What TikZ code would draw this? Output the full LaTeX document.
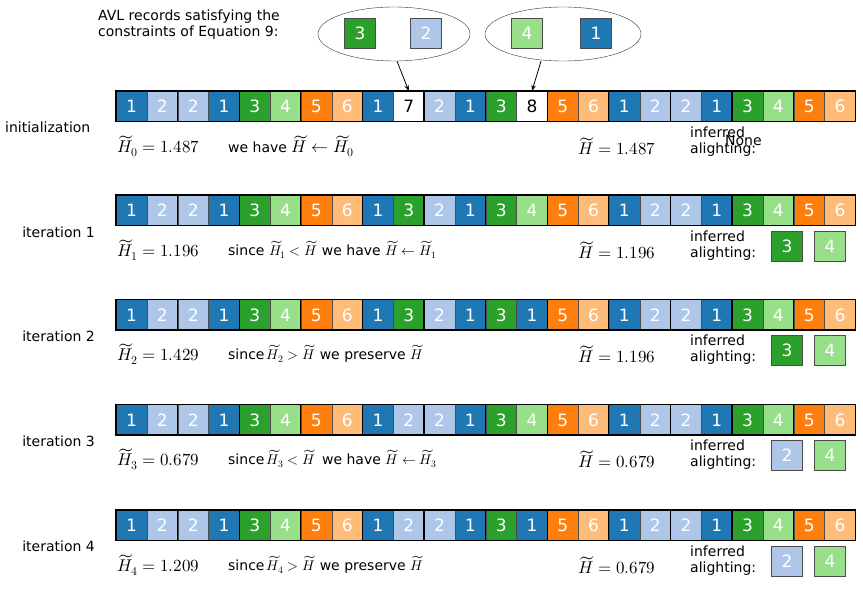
\documentclass[tikz,border=0pt]{standalone}
\usepackage{fontspec}
\setmainfont{DejaVu Sans}
\usepackage{amsmath}
\usepackage[math-style=TeX]{unicode-math}
\setmathfont{Latin Modern Math}
\usetikzlibrary{arrows.meta,shapes.geometric}
\definecolor{c1}{HTML}{1F77B4}\definecolor{c2}{HTML}{AEC7E8}
\definecolor{c3}{HTML}{2CA02C}\definecolor{c4}{HTML}{98DF8A}
\definecolor{c5}{HTML}{FF7F0E}\definecolor{c6}{HTML}{FFBB78}
\definecolor{c7}{HTML}{FFFFFF}\definecolor{c8}{HTML}{FFFFFF}
\colorlet{t1}{white}\colorlet{t2}{white}\colorlet{t3}{white}\colorlet{t4}{white}
\colorlet{t5}{white}\colorlet{t6}{white}\colorlet{t7}{black}\colorlet{t8}{black}
\tikzset{
 cell/.style={draw=black!70,line width=0.4pt,minimum width=30.8pt,minimum height=30.5pt,inner sep=0,anchor=north west,font=\fontsize{17}{17}\selectfont},
 lab/.style={font=\fontsize{14}{16}\selectfont,inner sep=0},
 mth/.style={font=\fontsize{17}{17}\selectfont,inner sep=0,anchor=west},
}
\newcommand{\drawrow}[3]{% name, top y, list
 \foreach \v [count=\k] in {#3} {
  \pgfmathsetmacro{\xx}{116+(\k-1)*30.8}
  \node[cell,fill=c\v,text=t\v] (#1c\k) at (\xx,#2) {\v};
 }
 \foreach \k in {0,2,...,24}{\draw[line width=1.1pt] (116+\k*30.8,#2) -- (116+\k*30.8,#2+30.5);}
 \draw[line width=1.1pt] (116,#2) rectangle (855.2,#2+30.5);
}
\begin{document}
\begin{tikzpicture}[x=1pt,y=-1pt]
\useasboundingbox (0,0) rectangle (863,593);
\node[lab,align=left,anchor=north west] (avl) at (98,10) {AVL records satisfying the\\constraints of Equation 9:};
\node[draw=black!80,ellipse,minimum width=152pt,minimum height=54pt] (e1) at (394,34) {};
\node[draw=black!80,ellipse,minimum width=156pt,minimum height=54pt] (e2) at (563,34) {};
\node[cell,fill=c3,text=white,anchor=center] (a3) at (360,33) {3};
\node[cell,fill=c2,text=white,anchor=center] (a2) at (426,33) {2};
\node[cell,fill=c4,text=white,anchor=center] (b4) at (527,33) {4};
\node[cell,fill=c1,text=white,anchor=center] (b1) at (596,33) {1};

\drawrow{r0}{91}{1,2,2,1,3,4,5,6,1,7,2,1,3,8,5,6,1,2,2,1,3,4,5,6}
\drawrow{r1}{195}{1,2,2,1,3,4,5,6,1,3,2,1,3,4,5,6,1,2,2,1,3,4,5,6}
\drawrow{r2}{299.5}{1,2,2,1,3,4,5,6,1,3,2,1,3,1,5,6,1,2,2,1,3,4,5,6}
\drawrow{r3}{404.5}{1,2,2,1,3,4,5,6,1,2,2,1,3,4,5,6,1,2,2,1,3,4,5,6}
\drawrow{r4}{510}{1,2,2,1,3,4,5,6,1,2,2,1,3,1,5,6,1,2,2,1,3,4,5,6}
\coordinate (s1) at ([xshift=3pt]e1.south);
\coordinate (s2) at ([xshift=-22pt]e2.south);
\draw[-{Stealth[length=6pt]},thick] (s1) -- (r0c10.north);
\draw[-{Stealth[length=6pt]},thick] (s2) -- (r0c14.north);

\node[lab,anchor=west] (l0) at (5,127) {initialization};
\node[lab,anchor=east] (l1) at (95,232) {iteration 1};
\node[lab,anchor=east] (l2) at (95,336) {iteration 2};
\node[lab,anchor=east] (l3) at (95,441) {iteration 3};
\node[lab,anchor=east] (l4) at (95,546) {iteration 4};

\node[mth] (m0a) at (117,146) {$\widetilde{H}_0=1.487$};
\node[mth] (m0b) at (228,146) {{\fontsize{14}{14}\selectfont we have }$\widetilde{H}\leftarrow\widetilde{H}_0$};
\node[mth] (m0c) at (578,146) {$\widetilde{H}=1.487$};
\node[lab,align=left,anchor=west] (i0) at (690,142) {inferred\\alighting:};
\node[lab,anchor=west] (n0) at (725,141) {None};

\foreach \y/\i/\val/\mid/\hv/\ca/\na/\cb/\nb in {
 250/1/1.196/{since $\widetilde{H}_1<\widetilde{H}$ we have $\widetilde{H}\leftarrow\widetilde{H}_1$}/1.196/c3/3/c4/4,
 354/2/1.429/{since$\,\widetilde{H}_2>\widetilde{H}$ we preserve $\widetilde{H}$}/1.196/c3/3/c4/4,
 459/3/0.679/{since$\,\widetilde{H}_3<\widetilde{H}$\, we have $\widetilde{H}\leftarrow\widetilde{H}_3$}/0.679/c2/2/c4/4,
 565/4/1.209/{since$\,\widetilde{H}_4>\widetilde{H}$ we preserve $\widetilde{H}$}/0.679/c2/2/c4/4}{
 \node[mth] (ma\i) at (117,\y) {$\widetilde{H}_{\i}=\val$};
 \node[mth,font=\fontsize{14}{14}\selectfont] (mb\i) at (228,\y) {\mid};
 \node[mth] (mc\i) at (578,\y) {$\widetilde{H}=\hv$};
 \node[lab,align=left,anchor=west] (inf\i) at (690,\y-4) {inferred\\alighting:};
 \node[cell,fill=\ca,text=white,anchor=center] (sa\i) at (787,\y-4) {\na};
 \node[cell,fill=\cb,text=white,anchor=center] (sb\i) at (830,\y-4) {\nb};
}
\end{tikzpicture}
\end{document}
